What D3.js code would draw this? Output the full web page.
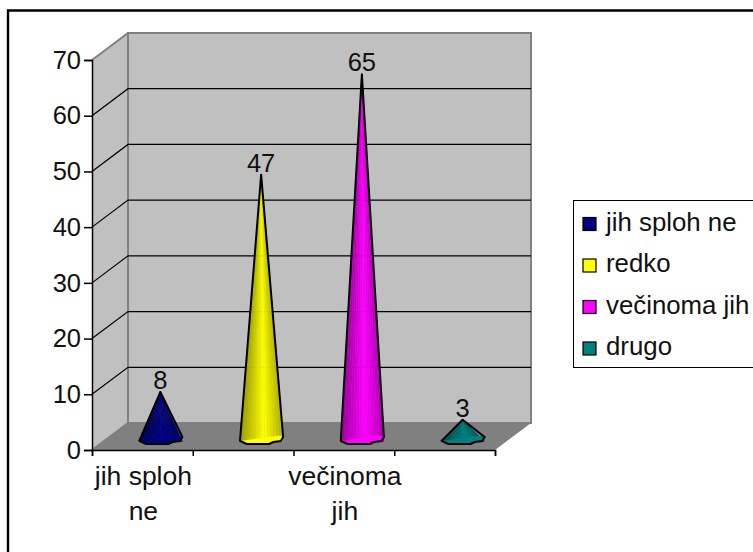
<!DOCTYPE html>
<html>
<head>
<meta charset="utf-8">
<script src="https://cdn.jsdelivr.net/npm/d3@7"></script>
<style>
body { margin: 0; background: #fff; }
text { font-family: "Liberation Sans", Arial, sans-serif; fill: #111; }
</style>
</head>
<body>
<div class="chart"></div>
<script>
// Chart data
var categories = ["jih sploh ne", "redko", "večinoma jih", "drugo"];
var values = [8, 47, 65, 3];
var colors = ["#000080", "#ffff00", "#ff00ff", "#008080"];
var yTicks = [0, 10, 20, 30, 40, 50, 60, 70];
var xLabels = [["jih sploh", "ne"], [], ["večinoma", "jih"], []];

var svgWidth = 753;
var svgHeight = 552;

var margin = { top: 60, bottom: 102, right: 258, left: 92 };
var depthX = 36;
var depthY = -27;
var fontSize = "25.5px";

var width = svgWidth - margin.left - margin.right;
var height = svgHeight - margin.top - margin.bottom;

var svg = d3.select(".chart")
    .append("svg")
    .attr("width", svgWidth)
    .attr("height", svgHeight)
    .style("display", "block");

// Outer frame, only top and left are visible in the window
svg.append("path")
    .attr("d", `M${svgWidth},10.5H8V${svgHeight}`)
    .attr("fill", "none")
    .attr("stroke", "#000")
    .attr("stroke-width", 2.4);

var chartGroup = svg.append("g")
    .attr("transform", `translate(${margin.left}, ${margin.top})`);

var xScale = d3.scaleBand()
    .domain(categories)
    .range([0, width]);

var yScale = d3.scaleLinear()
    .domain([0, 70])
    .range([height, 0]);

// Walls and floor
chartGroup.append("polygon")
    .attr("points", [[depthX, height + depthY], [depthX, depthY], [0, 0], [0, height]].join(" "))
    .attr("fill", "#c0c0c0");
chartGroup.append("rect")
    .attr("x", depthX)
    .attr("y", depthY)
    .attr("width", width)
    .attr("height", height)
    .attr("fill", "#c0c0c0")
    .attr("stroke", "#808080")
    .attr("stroke-width", 2);
chartGroup.append("polygon")
    .attr("points", [[0, height], [depthX, height + depthY], [width + depthX, height + depthY], [width, height]].join(" "))
    .attr("fill", "#808080");
chartGroup.append("path")
    .attr("d", `M0,0L${depthX},${depthY}M0,${height}L${depthX},${height + depthY}`)
    .attr("stroke", "#808080")
    .attr("stroke-width", 2)
    .attr("fill", "none");

// Gridlines
chartGroup.selectAll(".grid")
    .data(yTicks.filter(d => d > 0 && d < 70))
    .enter()
    .append("path")
    .attr("class", "grid")
    .attr("d", d => `M0,${yScale(d)}L${depthX},${yScale(d) + depthY}H${width + depthX}`)
    .attr("fill", "none")
    .attr("stroke", "#000")
    .attr("stroke-width", 1.2);

// Axes
var leftAxis = d3.axisLeft(yScale).tickValues(yTicks).tickSize(8).tickPadding(3);
var yAxisGroup = chartGroup.append("g").call(leftAxis);
yAxisGroup.selectAll("text").style("font-size", fontSize).attr("fill", "#111");
yAxisGroup.selectAll("path, line").attr("stroke", "#000").attr("stroke-width", 1.5);

var tickPositions = d3.range(categories.length + 1).map(i => i * xScale.step());
var bottomAxis = d3.axisBottom(d3.scaleLinear().domain([0, width]).range([0, width]))
    .tickValues(tickPositions).tickSize(6).tickFormat("");
var xAxisGroup = chartGroup.append("g")
    .attr("transform", `translate(0, ${height})`)
    .call(bottomAxis);
xAxisGroup.selectAll("path, line").attr("stroke", "#000").attr("stroke-width", 1.5);

// Category labels
categories.forEach(function(cat, i) {
    var label = chartGroup.append("text")
        .attr("text-anchor", "middle")
        .style("font-size", "26.5px");
    xLabels[i].forEach(function(line, j) {
        label.append("tspan")
            .attr("x", xScale(cat) + xScale.step() / 2 + 1)
            .attr("y", height + 35 + j * 35)
            .text(line);
    });
});

// Cones: base outline as offsets from the cone centre, in units of half the base width
var baseShape = [[-0.96, 0.2], [-0.65, 0.34], [0.36, 0.34], [0.55, 0.25], [0.9, 0.2], [1, 0.02], [0.85, -0.05]];
var baseHalf = 22;

function shade(color, t) {
    // darker at both edges of the cone, lightest right of centre
    var k = 1 - Math.abs(t - 0.15) * 0.35;
    var c = d3.rgb(color);
    return d3.rgb(c.r * k, c.g * k, c.b * k).toString();
}

var coneGroup = chartGroup.selectAll(".cone")
    .data(categories.map((c, i) => ({ cat: c, value: values[i], color: colors[i] })))
    .enter()
    .append("g")
    .attr("class", "cone");

coneGroup.each(function(d) {
    var g = d3.select(this);
    var cx = xScale(d.cat) + xScale.bandwidth() / 2 + depthX / 2;
    var cy = height + depthY / 2;
    var apex = [cx, yScale(d.value) + depthY / 2];
    var pts = baseShape.map(p => [cx + p[0] * baseHalf, cy + p[1] * baseHalf]);

    // ribs
    var ribs = 14;
    d3.range(ribs).forEach(function(i) {
        var a = -0.96 + (i / ribs) * 1.96;
        var b = -0.96 + ((i + 1) / ribs) * 1.96;
        g.append("polygon")
            .attr("points", [apex, [cx + a * baseHalf, cy + 5], [cx + b * baseHalf, cy + 5]].join(" "))
            .attr("fill", shade(d.color, (a + b) / 2))
            .attr("stroke", shade(d.color, (a + b) / 2))
            .attr("stroke-width", 0.5);
    });
    g.append("polygon")
        .attr("points", pts.join(" "))
        .attr("fill", d.color);

    // outline
    g.append("polygon")
        .attr("points", [apex].concat(pts.slice(0, 6)).join(" "))
        .attr("fill", "none")
        .attr("stroke", "#000")
        .attr("stroke-width", 2)
        .attr("stroke-linejoin", "round");

    g.append("text")
        .attr("x", apex[0])
        .attr("y", apex[1] - 3)
        .attr("text-anchor", "middle")
        .style("font-size", fontSize)
        .text(d.value);
});

// Legend
var legend = svg.append("g").attr("transform", "translate(573.5, 200.5)");
legend.append("rect")
    .attr("width", 190)
    .attr("height", 167)
    .attr("fill", "#fff")
    .attr("stroke", "#000")
    .attr("stroke-width", 1);

var legendItem = legend.selectAll(".item")
    .data(categories)
    .enter()
    .append("g")
    .attr("class", "item")
    .attr("transform", (d, i) => `translate(0, ${24 + i * 41.5})`);
legendItem.append("rect")
    .attr("x", 9.5)
    .attr("y", -7)
    .attr("width", 13)
    .attr("height", 13)
    .attr("fill", (d, i) => colors[i])
    .attr("stroke", "#000")
    .attr("stroke-width", 1.2);
legendItem.append("text")
    .attr("x", 32.5)
    .attr("y", 6)
    .style("font-size", "25.8px")
    .text(d => d);
</script>
</body>
</html>
